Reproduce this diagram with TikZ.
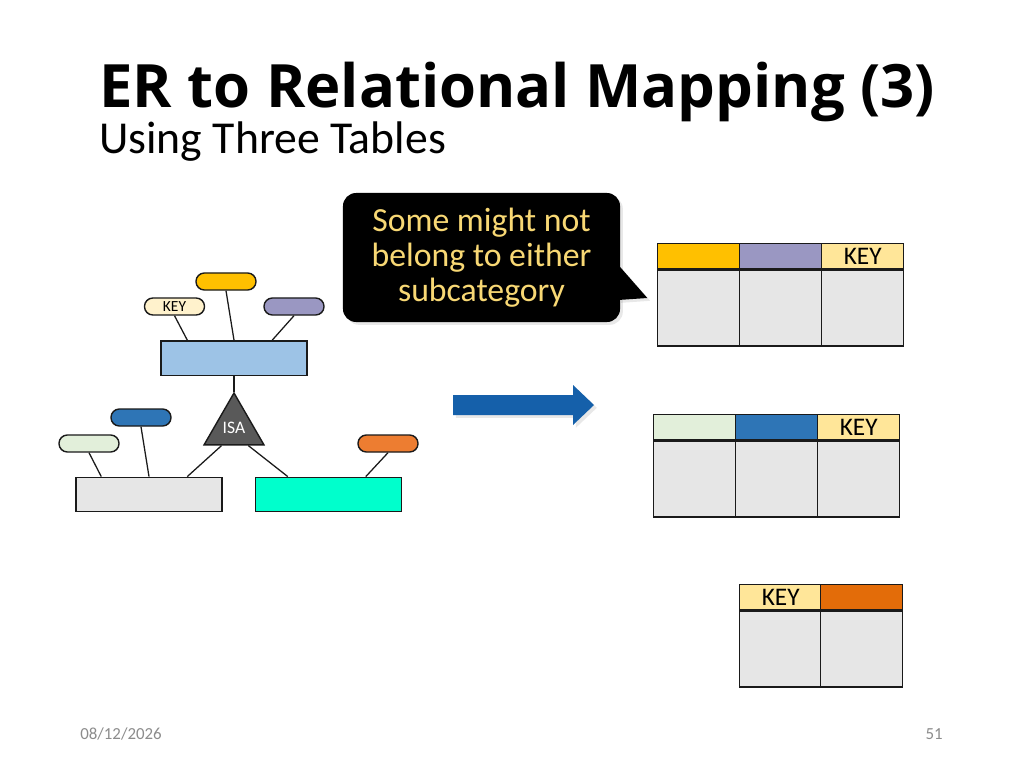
\documentclass[tikz,border=0pt]{standalone}
\usepackage{fontspec}
\setmainfont{Carlito}
\newfontfamily\headfont{Open Sans}
\usepackage{tikz}
\usetikzlibrary{calc,positioning,shapes.geometric,shadows}
\definecolor{ink}{HTML}{1A1A1A}
\definecolor{muted}{HTML}{8C8C8C}
\definecolor{cellgray}{HTML}{E6E6E6}
\definecolor{skyblue}{HTML}{9DC3E6}
\definecolor{aqua}{HTML}{00FFCC}
\definecolor{keyfill}{HTML}{FFF2CC}
\definecolor{keyhead}{HTML}{FFE699}
\definecolor{gold}{HTML}{FFC000}
\definecolor{lilac}{HTML}{9A97C2}
\definecolor{mint}{HTML}{E2EFDA}
\definecolor{steel}{HTML}{2E75B6}
\definecolor{amber}{HTML}{ED7D31}
\definecolor{rust}{HTML}{E36C09}
\definecolor{isagray}{HTML}{595959}
\definecolor{arrowblue}{HTML}{1560AA}
\definecolor{note}{HTML}{F8D874}
\tikzset{
  ent/.style={draw=ink, line width=1pt, inner sep=0pt, minimum width=3.65cm, minimum height=0.86cm},
  attr/.style={draw=ink, line width=1pt, rounded corners=0.21cm, inner sep=0pt,
    minimum width=1.5cm, minimum height=0.425cm, font=\fontsize{11}{12}\selectfont},
  link/.style={draw=ink, line width=0.9pt},
  isa/.style={regular polygon, regular polygon sides=3, draw=ink, fill=isagray, line width=1pt,
    inner sep=0pt, minimum size=1.73cm, text=white, font=\fontsize{12.5}{13}\selectfont},
  hcell/.style={draw=ink, line width=1pt, inner sep=0pt, minimum width=2.05cm, minimum height=0.625cm,
    anchor=north west, font=\fontsize{18}{20}\selectfont},
  bcell/.style={draw=ink, line width=1pt, fill=cellgray, inner sep=0pt, minimum width=2.05cm, minimum height=1.9cm},
  soft/.style={drop shadow={opacity=0.18, shadow xshift=2pt, shadow yshift=-2pt}},
  foot/.style={text=muted, font=\fontsize{12}{13}\selectfont, inner sep=0pt},
}
\begin{document}
\begin{tikzpicture}[x=0.025cm, y=-0.025cm]
  \useasboundingbox (0,0) rectangle (1024,768);
  \fill[white] (0,0) rectangle (1024,768);

  % heading
  \node[anchor=base west, inner sep=0pt, font=\headfont\bfseries\fontsize{42.5}{46}\selectfont] (title) at (99,108) {ER to Relational Mapping (3)};
  \node[anchor=base west, inner sep=0pt, font=\fontsize{32.5}{36}\selectfont] (subtitle) at (99,153) {Using Three Tables};

  % ER diagram
  \node[ent, fill=skyblue] (super) at (234,358) {};
  \node[ent, fill=cellgray] (subA) at (149,494.5) {};
  \node[ent, fill=aqua] (subB) at (328.5,494.5) {};
  \node[attr, fill=keyfill] (aKey) at (174.5,306.5) {KEY};
  \node[attr, fill=gold] (aGold) at (226,281.5) {};
  \node[attr, fill=lilac] (aLilac) at (294,306.5) {};
  \node[attr, fill=mint] (aMint) at (89,443.5) {};
  \node[attr, fill=steel] (aSteel) at (141,417.5) {};
  \node[attr, fill=amber] (aAmber) at (388,443.5) {};
  \node[isa] (isa) at (234,427.6) {ISA};

  \draw[link] (aKey.south) -- ([shift={(27,0)}]super.north west);
  \draw[link] (aGold.south) -- (super.north);
  \draw[link] (aLilac.south) -- ([shift={(112,0)}]super.north west);
  \draw[link] (super.south) -- (isa.corner 1);
  \draw[link] ($(isa.corner 2)!0.3!(isa.corner 3)$) -- ([shift={(112,0)}]subA.north west);
  \draw[link] ($(isa.corner 2)!0.73!(isa.corner 3)$) -- ([shift={(33,0)}]subB.north west);
  \draw[link] (aMint.south) -- ([shift={(26,0)}]subA.north west);
  \draw[link] (aSteel.south) -- (subA.north);
  \draw[link] (aAmber.south) -- ([shift={(111,0)}]subB.north west);

  % callout
  \node[fill=black, rounded corners=0.33cm, minimum width=6.925cm, minimum height=3.225cm, soft,
    text=note, align=center, font=\fontsize{24}{25}\selectfont] (bubble) at (481.5,257.5)
    {Some might not\\belong to either\\subcategory};
  \fill[black, soft] ([shift={(-2,7.5)}]bubble.east) -- ([shift={(27,40.5)}]bubble.east)
    -- ([shift={(-2,42.5)}]bubble.east) -- cycle;

  % mapping arrow
  \fill[arrowblue, soft] (453,395) -- (573,395) -- (573,385) -- (594,405) -- (573,425)
    -- (573,415) -- (453,415) -- cycle;

  % tables
  \foreach \c/\t [count=\i] in {gold/, lilac/, keyhead/KEY} {
    \node[hcell, fill=\c] (tA\i) at ({657+82*(\i-1)},243) {\t};
    \node[bcell, below=0pt of tA\i] (tAb\i) {};
  }
  \foreach \c/\t [count=\i] in {mint/, steel/, keyhead/KEY} {
    \node[hcell, fill=\c] (tB\i) at ({653+82*(\i-1)},414) {\t};
    \node[bcell, below=0pt of tB\i] (tBb\i) {};
  }
  \foreach \c/\t [count=\i] in {keyhead/KEY, rust/} {
    \node[hcell, fill=\c] (tC\i) at ({739+81*(\i-1)},584) {\t};
    \node[bcell, below=0pt of tC\i] (tCb\i) {};
  }

  % footer
  \node[foot, anchor=base west] (date) at (80,739) {08/12/2026};
  \node[foot, anchor=base east] (page) at (943,739) {51};
\end{tikzpicture}
\end{document}
